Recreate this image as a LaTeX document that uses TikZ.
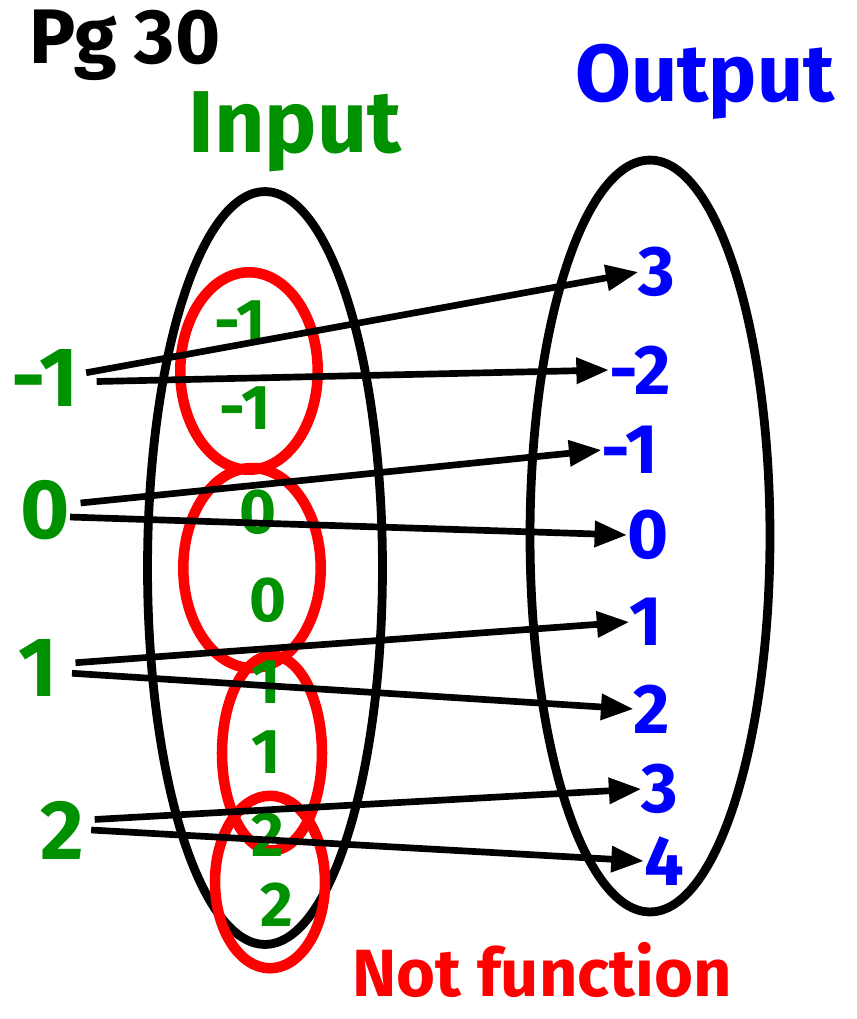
\documentclass[tikz,border=0pt]{standalone}
\usepackage{fontspec}
\setmainfont{Fira Sans}
\definecolor{ingreen}{RGB}{0,145,0}
\definecolor{outblue}{RGB}{0,0,255}
\definecolor{loopred}{RGB}{255,0,0}
\usetikzlibrary{shapes.geometric, arrows.meta}

\begin{document}
\begin{tikzpicture}[x=0.02cm, y=-0.02cm,
        every node/.style={inner sep=0pt},
        title/.style={font=\fontsize{50}{54}\selectfont\bfseries},
        inval/.style={text=ingreen, font=\fontsize{48}{50}\selectfont\bfseries},
        pairval/.style={text=ingreen, font=\fontsize{36}{38}\selectfont\bfseries},
        outval/.style={text=outblue, font=\fontsize{40}{42}\selectfont\bfseries},
        oval/.style={ellipse, draw=black, line width=5pt},
        loopmark/.style={ellipse, draw=loopred, line width=6pt},
        arr/.style={-{Triangle[length=6.5mm, width=5mm]}, line width=3.8pt, black}
    ]
        \useasboundingbox (0,0) rectangle (857,1019);

        % Ovals
        \node[oval, minimum width=4.7cm, minimum height=15.06cm] (dom) at (265,568) {};
        \node[oval, minimum width=4.8cm, minimum height=15.04cm] (rng) at (650,536) {};

        % Red loops round the pairs
        \node[loopmark, minimum width=2.75cm, minimum height=3.95cm] (lp1) at (249,371) {};
        \node[loopmark, minimum width=2.75cm, minimum height=4.0cm]  (lp2) at (252,568) {};
        \node[loopmark, minimum width=2.0cm,  minimum height=3.9cm]  (lp3) at (272,753) {};
        \node[loopmark, minimum width=2.2cm,  minimum height=3.45cm] (lp4) at (270,882) {};

        % Titles
        \node[title, font=\fontsize{44}{48}\selectfont\bfseries] (pg) at (125,45) {Pg 30};
        \node[title, text=ingreen] (intitle) at (295,132) {Input};
        \node[title, text=outblue, font=\fontsize{46}{50}\selectfont\bfseries] (outtitle) at (705,82) {Output};
        \node[title, text=loopred, font=\fontsize{38}{42}\selectfont\bfseries] (verdict) at (542,970) {Not function};

        % Inputs outside
        \node[inval] (in1) at (45,378) {-1};
        \node[inval] (in2) at (45,510) {0};
        \node[inval] (in3) at (38,668) {1};
        \node[inval] (in4) at (62,830) {2};

        % Inputs inside
        \node[pairval] (dom1) at (240,322) {-1};
        \node[pairval] (dom2) at (245,408) {-1};
        \node[pairval] (dom3) at (258,512) {0};
        \node[pairval] (dom4) at (268,600) {0};
        \node[pairval] (dom5) at (266,682) {1};
        \node[pairval] (dom6) at (266,752) {1};
        \node[pairval] (dom7) at (268,835) {2};
        \node[pairval] (dom8) at (277,905) {2};

        % Outputs
        \node[outval] (rng1) at (657,272) {3};
        \node[outval] (rng2) at (640,370) {-2};
        \node[outval] (rng3) at (630,450) {-1};
        \node[outval] (rng4) at (648,535) {0};
        \node[outval] (rng5) at (646,622) {1};
        \node[outval] (rng6) at (652,709) {2};
        \node[outval] (rng7) at (660,789) {3};
        \node[outval] (rng8) at (664,861) {4};

        % Arrows
        \draw[arr] ([xshift=4pt, yshift=3pt]in1.east) -- (rng1.west);
        \draw[arr] ([xshift=10pt, yshift=-2pt]in1.east) -- (rng2.west);
        \draw[arr] ([xshift=6pt, yshift=4pt]in2.east) -- (rng3.west);
        \draw[arr] ([yshift=-4pt]in2.east) -- (rng4.west);
        \draw[arr] ([xshift=10pt, yshift=3pt]in3.east) -- (rng5.west);
        \draw[arr] ([xshift=8pt, yshift=-3pt]in3.east) -- (rng6.west);
        \draw[arr] ([xshift=6pt, yshift=6pt]in4.east) -- (rng7.west);
        \draw[arr] ([xshift=4pt, yshift=0pt]in4.east) -- (rng8.west);
    \end{tikzpicture}
\end{document}
